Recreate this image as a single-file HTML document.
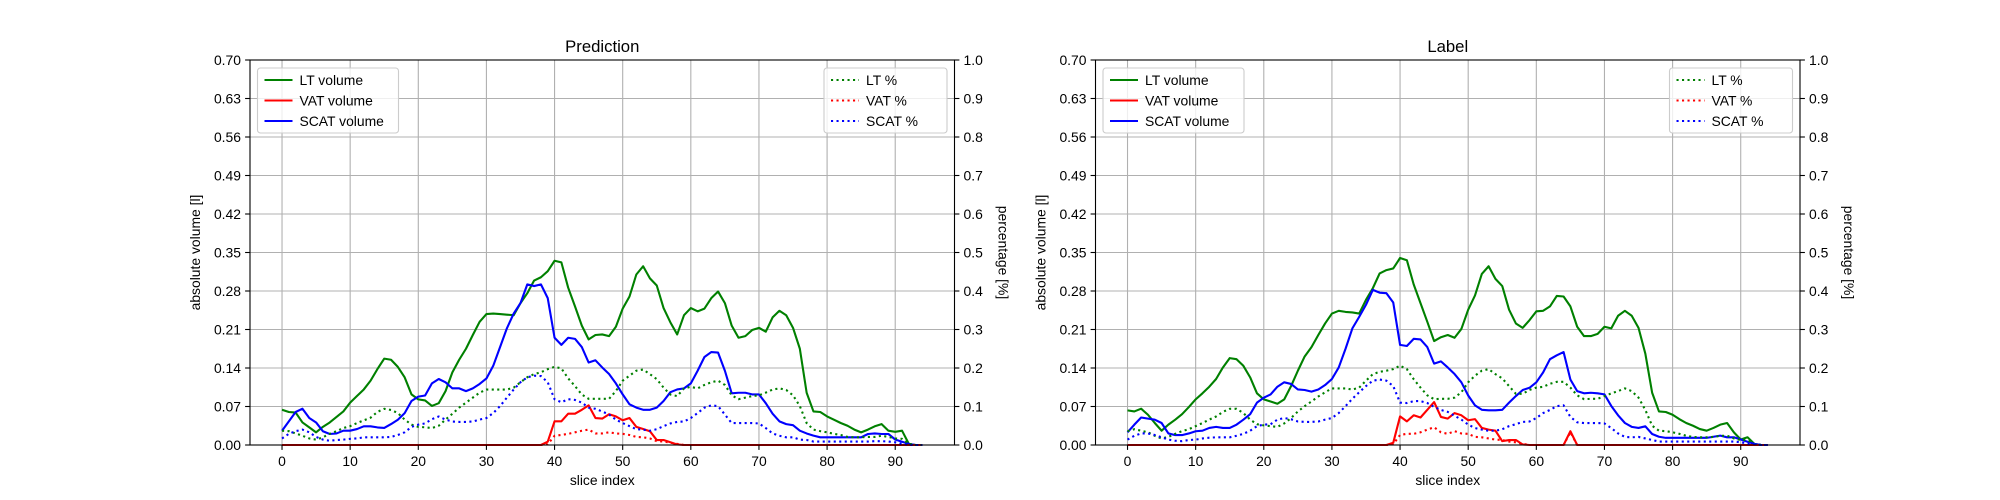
<!DOCTYPE html>
<html><head><meta charset="utf-8"><style>
html,body{margin:0;padding:0;background:#fff;}
svg{display:block;font-family:"Liberation Sans","DejaVu Sans",sans-serif;}
</style></head><body>
<svg id="fig" width="2000" height="500" viewBox="0 0 2000 500" xmlns="http://www.w3.org/2000/svg"></svg>
<script>
// ---- data ----
const sliceCount = 95;
const volTicks = ["0.00","0.07","0.14","0.21","0.28","0.35","0.42","0.49","0.56","0.63","0.70"];
const pctTicks = ["0.0","0.1","0.2","0.3","0.4","0.5","0.6","0.7","0.8","0.9","1.0"];
const xTicks = [0,10,20,30,40,50,60,70,80,90];
const panelTitles = ["Prediction","Label"];

const predLT = [.064,.060,.059,.041,.032,.023,.033,.041,.051,.061,.077,.089,.101,.117,.138,.157,.155,.142,.123,.092,.083,.081,.071,.076,.098,.132,.155,.175,.200,.224,.238,.239,.238,.237,.236,.258,.276,.299,.305,.316,.335,.332,.286,.252,.217,.192,.200,.201,.198,.215,.248,.270,.310,.325,.303,.290,.249,.223,.201,.236,.249,.243,.248,.267,.279,.258,.217,.195,.198,.209,.213,.206,.232,.244,.236,.213,.175,.095,.061,.060,.052,.046,.040,.035,.028,.023,.028,.034,.038,.026,.024,.026,.002,0,0];
const predVAT = [0,0,0,0,0,0,0,0,0,0,0,0,0,0,0,0,0,0,0,0,0,0,0,0,0,0,0,0,0,0,0,0,0,0,0,0,0,0,0,.006,.043,.043,.057,.057,.064,.072,.049,.048,.056,.052,.045,.049,.033,.029,.025,.009,.009,.005,.001,0,0,0,0,0,0,0,0,0,0,0,0,0,0,0,0,0,0,0,0,0,0,0,0,0,0,0,0,0,0,0,0,0,0,0,0];
const predSCAT = [.026,.043,.060,.066,.049,.041,.025,.020,.021,.026,.026,.029,.034,.034,.032,.031,.038,.046,.058,.080,.088,.090,.112,.120,.114,.103,.103,.098,.103,.111,.121,.144,.178,.212,.239,.258,.292,.289,.292,.267,.195,.182,.195,.193,.178,.150,.154,.141,.129,.112,.092,.074,.068,.064,.064,.068,.080,.096,.101,.103,.112,.135,.160,.169,.168,.135,.094,.095,.095,.092,.092,.076,.057,.043,.038,.036,.026,.021,.017,.014,.014,.014,.014,.014,.014,.014,.020,.021,.020,.020,.010,.006,.002,0,0];
const predLTpct = [.037,.036,.030,.024,.017,.014,.020,.029,.036,.044,.049,.057,.064,.071,.086,.094,.091,.083,.066,.053,.047,.046,.044,.050,.066,.081,.097,.110,.123,.136,.144,.144,.144,.144,.149,.163,.176,.184,.189,.197,.203,.199,.173,.153,.131,.120,.120,.120,.120,.140,.167,.180,.193,.196,.184,.171,.149,.131,.127,.147,.151,.147,.156,.163,.167,.156,.129,.119,.123,.127,.129,.136,.144,.147,.143,.129,.101,.057,.040,.036,.033,.029,.026,.021,.020,.020,.021,.021,.024,.021,.017,.016,.003,0,0];
const predVATpct = [0,0,0,0,0,0,0,0,0,0,0,0,0,0,0,0,0,0,0,0,0,0,0,0,0,0,0,0,0,0,0,0,0,0,0,0,0,0,0,.002,.024,.026,.029,.033,.037,.040,.030,.030,.033,.030,.029,.026,.021,.020,.017,.010,.009,.006,.003,0,0,0,0,0,0,0,0,0,0,0,0,0,0,0,0,0,0,0,0,0,0,0,0,0,0,0,0,0,0,0,0,0,0,0,0];
const predSCATpct = [.017,.029,.036,.040,.033,.021,.014,.011,.013,.014,.016,.017,.020,.020,.020,.020,.021,.026,.033,.047,.053,.056,.067,.074,.066,.061,.060,.060,.061,.066,.070,.083,.101,.123,.144,.163,.176,.180,.179,.163,.119,.111,.119,.117,.110,.097,.094,.087,.079,.066,.057,.049,.041,.040,.037,.041,.049,.056,.060,.061,.070,.083,.097,.103,.101,.079,.057,.057,.057,.057,.056,.044,.030,.024,.020,.020,.014,.013,.009,.009,.009,.009,.009,.009,.009,.009,.009,.010,.010,.009,.007,.003,0,0,0];

const labLT = [.063,.061,.066,.055,.040,.026,.037,.046,.056,.069,.083,.094,.106,.120,.141,.158,.156,.144,.123,.094,.083,.079,.075,.083,.107,.135,.161,.178,.200,.221,.239,.244,.242,.241,.239,.264,.285,.312,.318,.321,.340,.336,.292,.258,.224,.189,.196,.200,.195,.211,.246,.272,.311,.325,.302,.289,.246,.221,.213,.227,.243,.244,.252,.271,.270,.252,.215,.198,.198,.202,.215,.212,.235,.244,.235,.213,.166,.095,.061,.060,.055,.047,.040,.035,.029,.026,.031,.037,.040,.023,.010,.014,.002,0,0];
const labVAT = [0,0,0,0,0,0,0,0,0,0,0,0,0,0,0,0,0,0,0,0,0,0,0,0,0,0,0,0,0,0,0,0,0,0,0,0,0,0,0,.004,.052,.043,.054,.050,.064,.078,.051,.048,.058,.054,.045,.047,.031,.028,.026,.007,.009,.009,.001,0,0,0,0,0,0,.025,0,0,0,0,0,0,0,0,0,0,0,0,0,0,0,0,0,0,0,0,0,0,0,0,0,0,0,0,0];
const labSCAT = [.023,.037,.050,.048,.046,.040,.021,.018,.018,.021,.025,.026,.031,.033,.031,.031,.037,.046,.056,.077,.086,.092,.106,.114,.111,.101,.100,.097,.101,.109,.120,.141,.175,.212,.233,.255,.282,.277,.276,.259,.182,.180,.193,.192,.178,.148,.152,.141,.129,.114,.090,.072,.064,.063,.063,.064,.077,.089,.100,.104,.114,.132,.156,.163,.169,.119,.098,.094,.095,.094,.092,.071,.054,.040,.033,.031,.034,.020,.015,.013,.013,.013,.013,.013,.013,.013,.015,.017,.014,.014,.010,.006,.002,0,0];
const labLTpct = [.036,.041,.037,.033,.024,.017,.021,.029,.036,.041,.049,.057,.066,.074,.086,.094,.094,.083,.066,.054,.051,.049,.047,.056,.070,.087,.101,.113,.126,.137,.147,.147,.147,.144,.149,.167,.184,.190,.193,.197,.206,.197,.171,.149,.129,.119,.120,.120,.123,.137,.163,.180,.193,.197,.184,.173,.153,.133,.133,.143,.149,.151,.159,.164,.164,.149,.129,.119,.120,.120,.127,.134,.140,.147,.140,.123,.091,.050,.037,.036,.033,.029,.024,.021,.020,.020,.021,.024,.024,.017,.013,.013,.003,0,0];
const labVATpct = [0,0,0,0,0,0,0,0,0,0,0,0,0,0,0,0,0,0,0,0,0,0,0,0,0,0,0,0,0,0,0,0,0,0,0,0,0,0,0,.002,.026,.029,.029,.033,.040,.046,.033,.029,.036,.030,.029,.021,.020,.017,.014,.013,.009,.007,.003,0,0,0,0,0,0,.033,0,0,0,0,0,0,0,0,0,0,0,0,0,0,0,0,0,0,0,0,0,0,0,0,0,0,0,0,0];
const labSCATpct = [.014,.024,.030,.030,.026,.020,.014,.011,.010,.013,.014,.017,.019,.020,.020,.020,.024,.029,.037,.049,.053,.054,.066,.070,.067,.061,.060,.060,.061,.066,.070,.083,.101,.120,.137,.153,.167,.170,.167,.153,.110,.109,.114,.114,.109,.099,.091,.086,.076,.066,.053,.044,.040,.037,.037,.041,.049,.054,.060,.061,.070,.083,.091,.101,.103,.073,.059,.057,.057,.057,.056,.044,.030,.021,.020,.021,.017,.013,.009,.009,.009,.009,.009,.009,.009,.009,.009,.009,.009,.009,.007,.004,.003,0,0];

const NS = "http://www.w3.org/2000/svg";
const svg = document.getElementById('fig');
function mk(tag, attrs, parent, text){
  const e = document.createElementNS(NS, tag);
  for (const k in attrs) e.setAttribute(k, attrs[k]);
  if (text !== undefined) e.textContent = text;
  (parent||svg).appendChild(e);
  return e;
}
const plotTop = 60, plotBottom = 445;
const panels = [
  {x0:250, x1:954.5, title:panelTitles[0], LT:predLT, VAT:predVAT, SCAT:predSCAT, LTp:predLTpct, VATp:predVATpct, SCATp:predSCATpct, key:'prediction'},
  {x0:1095.5, x1:1800, title:panelTitles[1], LT:labLT, VAT:labVAT, SCAT:labSCAT, LTp:labLTpct, VATp:labVATpct, SCATp:labSCATpct, key:'label'}
];
const xmin = -4.7, xmax = 98.7;
panels.forEach(p => {
  const g = mk('g', {});
  
  
  const xs = v => p.x0 + (v - xmin) / (xmax - xmin) * (p.x1 - p.x0);
  const yv = v => plotBottom - v / 0.7 * (plotBottom - plotTop);
  const yp = v => plotBottom - v / 1.0 * (plotBottom - plotTop);
  xTicks.forEach(t => {
    const l = mk('line', {x1:xs(t), x2:xs(t), y1:plotTop, y2:plotBottom, stroke:'#b0b0b0', 'stroke-width':1.1}, g);
    
    
  });
  volTicks.forEach(t => {
    const y = yv(parseFloat(t));
    const l = mk('line', {x1:p.x0, x2:p.x1, y1:y, y2:y, stroke:'#b0b0b0', 'stroke-width':1.1}, g);
    
    
  });
  function series(arr, yfn, color, dotted, name){
    let d = '';
    arr.forEach((v, i) => { d += (i ? 'L' : 'M') + xs(i).toFixed(2) + ',' + yfn(v).toFixed(2); });
    const a = {d:d, fill:'none', stroke:color, 'stroke-width':2.1, 'stroke-linejoin':'round'};
    if (dotted) { a['stroke-dasharray'] = '2.1,3.4'; a['stroke-linecap'] = 'butt'; }
    const path = mk('path', a, g);
    
    
  }
  series(p.LT, yv, '#008000', false, 'lt-volume-line');
  series(p.VAT, yv, '#ff0000', false, 'vat-volume-line');
  series(p.SCAT, yv, '#0000ff', false, 'scat-volume-line');
  series(p.LTp, yp, '#008000', true, 'lt-percent-line');
  series(p.VATp, yp, '#ff0000', true, 'vat-percent-line');
  series(p.SCATp, yp, '#0000ff', true, 'scat-percent-line');
  const fr = mk('rect', {x:p.x0, y:plotTop, width:p.x1-p.x0, height:plotBottom-plotTop, fill:'none', stroke:'#000', 'stroke-width':1.1}, g);
  
  
  xTicks.forEach(t => {
    mk('line', {x1:xs(t), x2:xs(t), y1:plotBottom, y2:plotBottom+4.9, stroke:'#000', 'stroke-width':1.1}, g);
    const tl = mk('text', {x:xs(t), y:plotBottom+21, 'font-size':13.9, 'text-anchor':'middle', fill:'#000'}, g, String(t));
    
    
  });
  volTicks.forEach(t => {
    const y = yv(parseFloat(t));
    mk('line', {x1:p.x0-4.9, x2:p.x0, y1:y, y2:y, stroke:'#000', 'stroke-width':1.1}, g);
    const tl = mk('text', {x:p.x0-9, y:y+5, 'font-size':13.9, 'text-anchor':'end', fill:'#000'}, g, t);
    
    
  });
  pctTicks.forEach(t => {
    const y = yp(parseFloat(t));
    mk('line', {x1:p.x1, x2:p.x1+4.9, y1:y, y2:y, stroke:'#000', 'stroke-width':1.1}, g);
    const tl = mk('text', {x:p.x1+9, y:y+5, 'font-size':13.9, 'text-anchor':'start', fill:'#000'}, g, t);
    
    
  });
  const ti = mk('text', {x:(p.x0+p.x1)/2, y:52, 'font-size':16.7, 'text-anchor':'middle', fill:'#000'}, g, p.title);
  
  
  const xl = mk('text', {x:(p.x0+p.x1)/2, y:485, 'font-size':13.9, 'text-anchor':'middle', fill:'#000'}, g, 'slice index');
  
  
  const yl = mk('text', {x:0, y:0, 'font-size':13.9, 'text-anchor':'middle', fill:'#000', transform:'translate(' + (p.x0-50) + ',' + ((plotTop+plotBottom)/2) + ') rotate(-90)'}, g, 'absolute volume [l]');
  
  
  const y2 = mk('text', {x:0, y:0, 'font-size':13.9, 'text-anchor':'middle', fill:'#000', transform:'translate(' + (p.x1+44) + ',' + ((plotTop+plotBottom)/2) + ') rotate(90)'}, g, 'percentage [%]');
  
  
  function legend(lx, w, entries, dotted, name){
    const lg = mk('g', {}, g);
    
    
    mk('rect', {x:lx, y:68, width:w, height:65, rx:3, fill:'#fff', 'fill-opacity':0.8, stroke:'#cccccc', 'stroke-width':1.1}, lg);
    entries.forEach((e, i) => {
      const y = 80 + i * 20.5;
      const la = {x1:lx+7, x2:lx+35, y1:y, y2:y, stroke:e[1], 'stroke-width':2.1};
      if (dotted) la['stroke-dasharray'] = '2.1,3.4';
      mk('line', la, lg);
      const t = mk('text', {x:lx+42, y:y+5, 'font-size':13.9, fill:'#000'}, lg, e[0]);
      
      
    });
  }
  legend(p.x0+7.5, 141, [['LT volume','#008000'],['VAT volume','#ff0000'],['SCAT volume','#0000ff']], false, 'volume-legend');
  legend(p.x1-130.5, 123, [['LT %','#008000'],['VAT %','#ff0000'],['SCAT %','#0000ff']], true, 'percent-legend');
});
</script>
</body></html>
